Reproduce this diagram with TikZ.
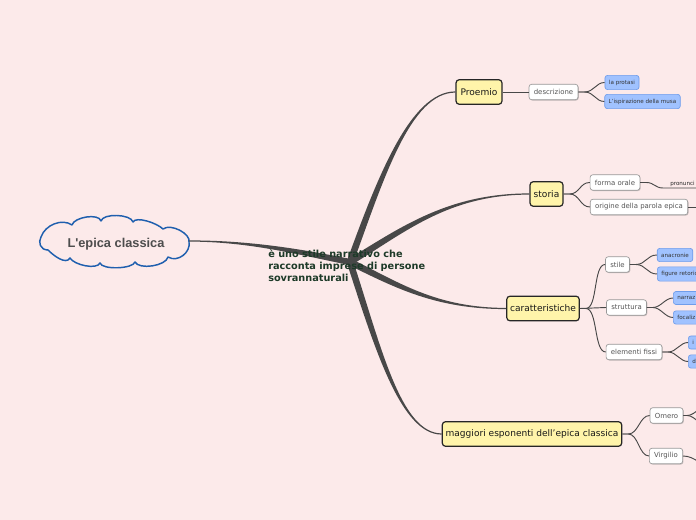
\documentclass[tikz,border=0pt]{standalone}
\usepackage{fontspec}
\setmainfont{DejaVu Sans}
\newfontfamily\cloudfont{Liberation Sans}
\usetikzlibrary{calc,shadows}
\definecolor{bg}{HTML}{FCEAEA}
\definecolor{yel}{HTML}{FFF4AA}
\definecolor{blu}{HTML}{A0C2FF}
\definecolor{bluline}{HTML}{6F9DEB}
\definecolor{branch}{HTML}{484848}
\definecolor{cloudblue}{HTML}{1F5FAE}
\definecolor{hubtext}{HTML}{1D3A28}
\definecolor{wtext}{HTML}{555555}
\definecolor{roottext}{HTML}{4D4D4D}
\newcommand\taper[6]{\fill[branch] ($#1+#5$) .. controls ($#2+#5$) and ($#3+#6$) .. ($#4+#6$) -- ($#4-#6$) .. controls ($#3-#6$) and ($#2-#5$) .. ($#1-#5$) -- cycle;}
\begin{document}
\begin{tikzpicture}[x=0.75pt,y=-0.75pt,
  topic/.style={draw=black!85, line width=0.9pt, fill=yel, rounded corners=2.5pt, font=\fontsize{6.8}{8}\selectfont, inner xsep=2.5pt, minimum height=18.5pt, text=black!90},
  sub/.style={draw=black!40, line width=0.5pt, fill=white, rounded corners=2pt, font=\fontsize{5.2}{6}\selectfont, text=wtext, inner xsep=3.6pt, minimum height=11.6pt, drop shadow={shadow xshift=0.6pt, shadow yshift=-0.6pt, opacity=0.35, fill=black!60}},
  leaf/.style={draw=bluline, line width=0.5pt, fill=blu, rounded corners=2pt, font=\fontsize{4.2}{5}\selectfont, text=black!80, inner xsep=3pt, minimum height=9.75pt},
  conn/.style={draw=branch, line width=0.7pt},
  cloudline/.style={draw=cloudblue, line width=1.1pt, line join=round}]
\useasboundingbox (0,0) rectangle (696,520);
\fill[bg] (0,0) rectangle (696,520);
\clip (0,0) rectangle (696,520);

% cloud outline of the central topic
\draw[cloudline] (41,237)
  .. controls +(4,-12) and +(-10,-7) .. (72,225)
  .. controls +(2,-8) and +(-2,-8) .. (101,221)
  .. controls +(2,-8) and +(-2,-8) .. (133,222)
  .. controls +(3,-6) and +(-6,-6) .. (163,229)
  .. controls +(8,-6) and +(2,-8) .. (189,242)
  .. controls +(2,10) and +(10,6) .. (168,257)
  .. controls +(-2,9) and +(4,8) .. (135,262)
  .. controls +(-2,7) and +(2,7) .. (100,263)
  .. controls +(-3,7) and +(4,7) .. (70,258)
  .. controls +(-4,7) and +(6,6) .. (48,250)
  .. controls +(-8,0) and +(-3,5) .. cycle;
\node[inner sep=0pt, font=\cloudfont\bfseries\fontsize{9.6}{11}\selectfont, text=roottext] (root) at (116,244) {L'epica classica};
\coordinate (rootE) at (189,241);
\coordinate (hub) at (350,262);

\node[topic, minimum width=34.5pt] (proemio) at (479,92) {Proemio};
\node[sub] (descr) at (553.5,92) {descrizione};
\node[leaf] (protasi) at (622,82.5) {la protasi};
\node[leaf] (musa) at (642.5,101.5) {L'ispirazione della musa};

\node[topic, minimum width=24.75pt] (storia) at (546.5,194) {storia};
\node[sub] (forma) at (615,182.5) {forma orale};
\node[anchor=south west, inner sep=0pt, font=\fontsize{4.2}{5}\selectfont, text=black!85] (pron) at (670,186.5) {pronunci};
\coordinate (pronl) at (663,188);
\coordinate (pronr) at (705,188);
\node[sub] (orig) at (639,207) {origine della parola epica};
\coordinate (origr) at (705,207);

\node[topic] (caratt) at (543,308.5) {caratteristiche};
\node[sub] (stile) at (617.5,264.5) {stile};
\node[leaf] (anacr) at (675,255) {anacronie};
\node[leaf, anchor=west, text width=40pt] (figure) at (657,274) {figure retoric};
\node[sub] (strutt) at (626.5,307.5) {struttura};
\node[leaf, anchor=west, text width=25pt] (narr) at (673,298) {narraz};
\node[leaf, anchor=west, text width=25pt] (focal) at (673,317.5) {focaliz};
\node[sub] (elem) at (634,352) {elementi fissi};
\node[leaf, anchor=west, text width=15pt] (ei) at (688,342.5) {i};
\node[leaf, anchor=west, text width=15pt] (ed) at (688,361.5) {d};

\node[topic] (magg) at (532,434) {maggiori esponenti dell'epica classica};
\node[sub] (omero) at (666.5,415.5) {Omero};
\node[sub] (virg) at (666,456) {Virgilio};
\coordinate (oma) at (712,402);
\coordinate (omb) at (712,430);
\coordinate (vga) at (712,466);

% tapered main branches
\taper{(rootE)}{(250,241)}{(300,252)}{(hub)}{(0,0.6)}{(-0.7,3)}
\taper{(hub)}{(380,180)}{(410,92)}{(proemio.west)}{(3.1,1.1)}{(0,0.6)}
\taper{(hub)}{(404,229)}{(449,194)}{(storia.west)}{(1.75,2.8)}{(0,0.6)}
\taper{(hub)}{(397,285)}{(436,308.5)}{(caratt.west)}{(-1.45,2.95)}{(0,0.6)}
\taper{(hub)}{(378,348)}{(401,434)}{(magg.west)}{(-3.1,1.0)}{(0,0.6)}

% connectors
\draw[conn] (proemio.east) -- (descr.west);
\draw[conn] (descr.east) -- ++(6,0) .. controls +(10,0) and +(-9,0) .. (protasi.west);
\draw[conn] (descr.east) -- ++(6,0) .. controls +(10,0) and +(-9,0) .. (musa.west);
\draw[conn] (storia.east) -- ++(6,0) .. controls +(10,0) and +(-10,0) .. (forma.west);
\draw[conn] (storia.east) -- ++(6,0) .. controls +(10,0) and +(-10,0) .. (orig.west);
\draw[conn] (forma.east) -- ++(6,0) .. controls +(8,0) and +(-8,0) .. (pronl) -- (pronr);
\draw[conn] (orig.east) -- (origr);
\draw[conn] (caratt.east) -- ++(6,0) .. controls +(12,0) and +(-12,0) .. (stile.west);
\draw[conn] (caratt.east) -- (strutt.west);
\draw[conn] (caratt.east) -- ++(6,0) .. controls +(12,0) and +(-12,0) .. (elem.west);
\draw[conn] (stile.east) -- ++(6,0) .. controls +(10,0) and +(-10,0) .. (anacr.west);
\draw[conn] (stile.east) -- ++(6,0) .. controls +(10,0) and +(-10,0) .. (figure.west);
\draw[conn] (strutt.east) -- ++(6,0) .. controls +(8,0) and +(-8,0) .. (narr.west);
\draw[conn] (strutt.east) -- ++(6,0) .. controls +(8,0) and +(-8,0) .. (focal.west);
\draw[conn] (elem.east) -- ++(6,0) .. controls +(8,0) and +(-8,0) .. (ei.west);
\draw[conn] (elem.east) -- ++(6,0) .. controls +(8,0) and +(-8,0) .. (ed.west);
\draw[conn] (magg.east) -- ++(6,0) .. controls +(10,0) and +(-10,0) .. (omero.west);
\draw[conn] (magg.east) -- ++(6,0) .. controls +(10,0) and +(-10,0) .. (virg.west);
\draw[conn] (omero.east) -- ++(4,0) .. controls +(8,0) and +(-8,0) .. (oma);
\draw[conn] (omero.east) -- ++(4,0) .. controls +(8,0) and +(-8,0) .. (omb);
\draw[conn] (virg.east) .. controls +(12,0) and +(-12,0) .. (vga);

\node[anchor=north west, align=left, inner sep=0pt, font=\bfseries\fontsize{7.3}{9}\selectfont, text=hubtext] (desc) at (268,249.5) {è uno stile narrativo che\\racconta imprese di persone\\sovrannaturali};
\end{tikzpicture}
\end{document}
